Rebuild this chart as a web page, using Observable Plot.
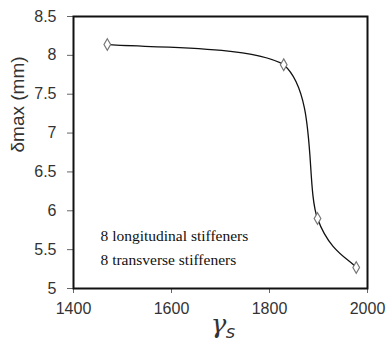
<!DOCTYPE html>
<html><head><meta charset="utf-8">
<script src="https://cdn.jsdelivr.net/npm/d3@7"></script>
<script src="https://cdn.jsdelivr.net/npm/@observablehq/plot@0.6"></script>
<style>body{margin:0;background:#fff}</style>
</head><body><div id="chart"></div>
<script>
const gammaS = [1469, 1829, 1898, 1977];
const deltaMax = [8.14, 7.88, 5.90, 5.27];
const xTicks = [1400, 1600, 1800, 2000];
const yTicks = [5, 5.5, 6, 6.5, 7, 7.5, 8, 8.5];
const noteLines = ["8 longitudinal stiffeners", "8 transverse stiffeners"];
const noteY = [5.67, 5.36];

const data = gammaS.map((x, i) => ({x, y: deltaMax[i]}));

// Smooth curve: uniform Catmull-Rom bezier, control points clamped to each segment's box (no overshoot)
function smoothClamped(context) {
  let pts = [];
  return {
    areaStart() {}, areaEnd() {},
    lineStart() { pts = []; },
    point(x, y) { pts.push([+x, +y]); },
    lineEnd() {
      const n = pts.length;
      if (!n) return;
      context.moveTo(pts[0][0], pts[0][1]);
      if (n === 1) return;
      const clamp = (v, a, b) => Math.max(Math.min(a, b), Math.min(Math.max(a, b), v));
      for (let i = 0; i < n - 1; i++) {
        const p0 = pts[Math.max(0, i - 1)], p1 = pts[i], p2 = pts[i + 1], p3 = pts[Math.min(n - 1, i + 2)];
        let c1 = [p1[0] + (p2[0] - p0[0]) / 6, p1[1] + (p2[1] - p0[1]) / 6];
        let c2 = [p2[0] - (p3[0] - p1[0]) / 6, p2[1] - (p3[1] - p1[1]) / 6];
        c1 = [clamp(c1[0], p1[0], p2[0]), clamp(c1[1], p1[1], p2[1])];
        c2 = [clamp(c2[0], p1[0], p2[0]), clamp(c2[1], p1[1], p2[1])];
        context.bezierCurveTo(c1[0], c1[1], c2[0], c2[1], p2[0], p2[1]);
      }
    }
  };
}

const chart = Plot.plot({
  width: 390, height: 340,
  marginLeft: 73, marginRight: 23, marginTop: 16, marginBottom: 52,
  style: {fontFamily: "Liberation Sans, Arial, sans-serif", fontSize: "16px", color: "#333", background: "#fff"},
  x: {domain: [1400, 2000], label: null},
  y: {domain: [5, 8.5], label: null},
  marks: [
    Plot.axisX({ticks: xTicks, tickSize: 5, tickPadding: 9, tickFormat: d => String(d), stroke: "#666", fontSize: 16}),
    Plot.axisY({ticks: yTicks, tickSize: 6, tickPadding: 11, tickFormat: d => String(d), stroke: "#666", fontSize: 16}),
    Plot.frame({stroke: "#111", strokeWidth: 2}),
    Plot.line(data, {x: "x", y: "y", curve: smoothClamped, stroke: "#111", strokeWidth: 1.3}),
    Plot.dot(data, {x: "x", y: "y", symbol: "diamond", r: 3.5, stroke: "#777", fill: "#fff", strokeWidth: 1.2}),
    Plot.text(noteLines, {x: 1400, y: (d, i) => noteY[i], text: d => d, textAnchor: "start", dx: 27,
      fontFamily: "Liberation Serif, Times New Roman, serif", fontSize: 15.5, fill: "#111"}),
    Plot.text(["δmax (mm)"], {frameAnchor: "left", dx: -56, rotate: -90, fontSize: 19, fill: "#333"}),
    Plot.text(["γ"], {frameAnchor: "bottom", dy: 44, dx: -2, fontSize: 26, fontStyle: "italic",
      fontFamily: "DejaVu Serif, serif", fill: "#333"}),
    Plot.text(["s"], {frameAnchor: "bottom", dy: 49, dx: 10, fontSize: 18, fontStyle: "italic",
      fontFamily: "DejaVu Sans, sans-serif", fill: "#333"})
  ]
});
document.getElementById("chart").append(chart);
</script></body></html>
